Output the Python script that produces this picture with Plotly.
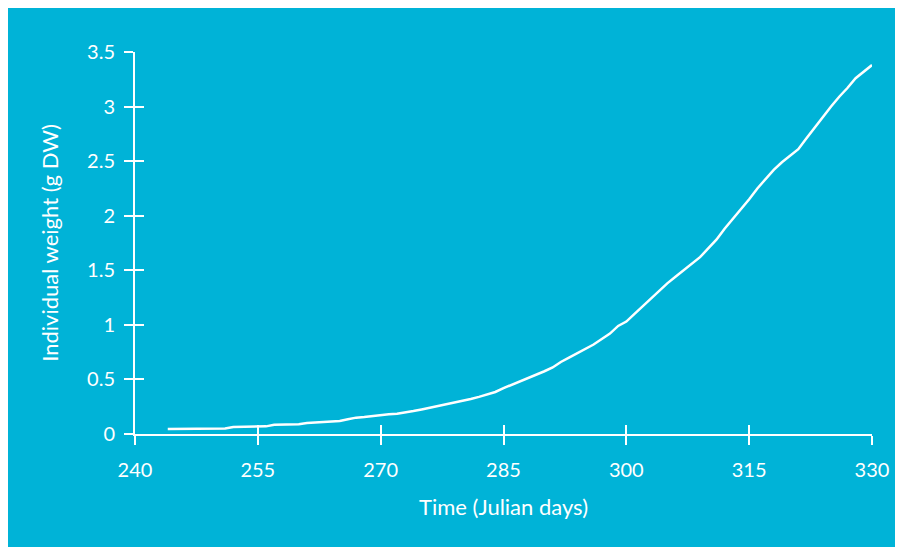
import plotly.graph_objects as go

days = list(range(244, 331))
weight = [
    0.045, 0.045, 0.045, 0.045, 0.045, 0.045, 0.045, 0.05,   # 244-251
    0.065, 0.065, 0.065, 0.065, 0.07,                        # 252-256
    0.085, 0.085, 0.085, 0.09,                               # 257-260
    0.10, 0.105, 0.115, 0.115, 0.12,                         # 261-265
    0.135, 0.15, 0.155, 0.165, 0.175,                        # 266-270
    0.18, 0.185, 0.195, 0.21, 0.225,                         # 271-275
    0.24, 0.255, 0.27, 0.29, 0.305,                          # 276-280
    0.32, 0.34, 0.36, 0.385, 0.42,                           # 281-285
    0.45, 0.48, 0.51, 0.54, 0.575,                           # 286-290
    0.61, 0.66, 0.70, 0.74, 0.78,                            # 291-295
    0.82, 0.87, 0.92, 0.99, 1.03,                            # 296-300
    1.10, 1.17, 1.24, 1.31, 1.38,                            # 301-305
    1.44, 1.50, 1.56, 1.62, 1.70,                            # 306-310
    1.78, 1.88, 1.97, 2.05, 2.15,                            # 311-315
    2.25, 2.34, 2.42, 2.49, 2.55,                            # 316-320
    2.61, 2.71, 2.81, 2.90, 3.00,                            # 321-325
    3.09, 3.17, 3.26, 3.32, 3.38,                            # 326-330
]

x_ticks = [240, 255, 270, 285, 300, 315, 330]
y_ticks = [0, 0.5, 1, 1.5, 2, 2.5, 3, 3.5]
y_tick_text = ["0", "0.5", "1", "1.5", "2", "2.5", "3", "3.5"]

x_title = "Time (Julian days)"
y_title = "Individual weight (g DW)"

CYAN = "rgb(0,179,215)"
WHITE = "#ffffff"
FONT = "Lato"

fig = go.Figure()
fig.add_trace(go.Scatter(x=days, y=weight, mode="lines",
                         line=dict(color=WHITE, width=2.5), showlegend=False,
                         hoverinfo="skip"))
# empty trace for the overlay axes (inner half of the crossing ticks)
fig.add_trace(go.Scatter(x=[], y=[], xaxis="x2", yaxis="y2", showlegend=False))

axis_common = dict(showgrid=False, zeroline=False, tickcolor=WHITE, tickwidth=2,
                   ticklen=9, tickfont=dict(family=FONT, size=20, color=WHITE))

fig.update_layout(
    width=903, height=547,
    margin=dict(l=127, r=39, t=44, b=121),
    paper_bgcolor=CYAN,
    plot_bgcolor="rgba(0,0,0,0)",
    font=dict(family=FONT, color=WHITE),
    xaxis=dict(range=[240, 330], tickmode="array", tickvals=x_ticks,
               ticktext=[str(v) for v in x_ticks], ticks="outside",
               showline=True, linecolor=WHITE, linewidth=2,
               ticklabelstandoff=8,
               title=dict(text=x_title, font=dict(family=FONT, size=22, color=WHITE),
                          standoff=20),
               **axis_common),
    yaxis=dict(range=[0, 3.5], tickmode="array", tickvals=y_ticks,
               ticktext=y_tick_text, ticks="outside",
               showline=True, linecolor=WHITE, linewidth=2,
               ticklabelstandoff=5,
               title=dict(text=y_title, font=dict(family=FONT, size=22, color=WHITE),
                          standoff=22),
               **axis_common),
    xaxis2=dict(range=[240, 330], overlaying="x", tickmode="array", tickvals=x_ticks,
                ticks="inside", showticklabels=False, showline=False,
                **axis_common),
    yaxis2=dict(range=[0, 3.5], overlaying="y", tickmode="array", tickvals=y_ticks,
                ticks="inside", showticklabels=False, showline=False,
                **axis_common),
)

fig.write_html("out.html")
